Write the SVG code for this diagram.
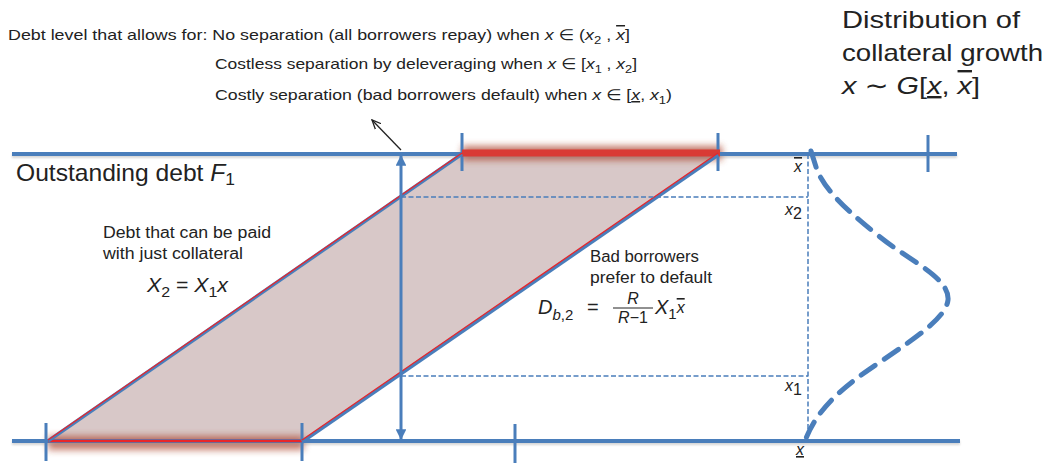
<svg xmlns="http://www.w3.org/2000/svg" width="1051" height="466" viewBox="0 0 1051 466">
<style>
text{font-family:"Liberation Sans","DejaVu Sans",sans-serif;fill:#222;}
.it{font-style:italic;}
.axis{stroke:#4a7ebb;stroke-width:4;fill:none;}
.tick{stroke:#4a7ebb;stroke-width:3;fill:none;}
.dash{stroke:#4a7ebb;stroke-width:1.5;stroke-dasharray:5 2.5;fill:none;}
.edge{stroke:#4a7ebb;stroke-width:3.5;fill:none;}
.redline{stroke:#e8262a;stroke-width:1.3;fill:none;}
.t15{font-size:15px;}
.t16{font-size:16px;}
.t24{font-size:24px;}
</style>
<defs>
<filter id="glow" filterUnits="userSpaceOnUse" x="0" y="0" width="1051" height="466">
<feGaussianBlur stdDeviation="3.5"/>
</filter>
<filter id="shadow" filterUnits="userSpaceOnUse" x="0" y="0" width="1051" height="466">
<feGaussianBlur stdDeviation="1"/>
</filter>
<marker id="ah" viewBox="0 0 10 10" refX="9" refY="5" markerWidth="4" markerHeight="3.6" orient="auto-start-reverse" markerUnits="strokeWidth">
<path d="M0,0 L10,5 L0,10 z" fill="#4a7ebb"/>
</marker>
<marker id="open" viewBox="0 0 10 10" refX="9" refY="5" markerWidth="10" markerHeight="10" orient="auto" markerUnits="userSpaceOnUse">
<path d="M0,1 L9,5 L0,9" fill="none" stroke="#222" stroke-width="1.3"/>
</marker>
</defs>

<g id="region">
<polygon points="48,441 302,441 718,154 462,154" fill="#d8c8c8"/>
</g>

<g id="glows">
<rect x="462" y="146" width="260" height="14" fill="#a83a22" opacity="0.7" filter="url(#glow)"/>
<rect x="48" y="436" width="256" height="14" fill="#a83a22" opacity="0.65" filter="url(#glow)"/>
</g>

<g id="axes">
<line x1="12" y1="156" x2="957" y2="156" stroke="#999" stroke-width="4" opacity="0.4" filter="url(#shadow)"/>
<line x1="12" y1="443" x2="960" y2="443" stroke="#999" stroke-width="4" opacity="0.4" filter="url(#shadow)"/>
<line class="axis" x1="12" y1="154" x2="957" y2="154"/>
<line class="axis" x1="12" y1="441" x2="960" y2="441"/>
<line class="tick" x1="462" y1="133" x2="462" y2="171"/>
<line class="tick" x1="718" y1="133" x2="718" y2="171"/>
<line class="tick" x1="928" y1="135" x2="928" y2="172"/>
<line class="tick" x1="46" y1="423" x2="46" y2="461"/>
<line class="tick" x1="302" y1="423" x2="302" y2="461"/>
<line class="tick" x1="515" y1="424" x2="515" y2="463"/>
</g>

<g id="bars">
<line x1="462" y1="153" x2="720" y2="153" stroke="#d93a35" stroke-width="7"/>
<line x1="48" y1="441" x2="302" y2="441" stroke="#e8262a" stroke-width="2.5"/>
</g>

<g id="connectors">
<line class="edge" x1="48" y1="441" x2="462" y2="154"/>
<line class="redline" x1="48" y1="440" x2="462" y2="153"/>
<line class="edge" x1="302" y1="442" x2="718" y2="155"/>
<line class="redline" x1="302" y1="440" x2="718" y2="153"/>
<line class="dash" x1="401" y1="197" x2="808" y2="197"/>
<line class="dash" x1="401" y1="376" x2="808" y2="376"/>
<line class="dash" x1="808" y1="154" x2="808" y2="441"/>
<line x1="401" y1="156" x2="401" y2="439" stroke="#4a7ebb" stroke-width="3" marker-start="url(#ah)" marker-end="url(#ah)"/>
<line x1="401" y1="150" x2="372" y2="120" stroke="#222" stroke-width="1.3" marker-end="url(#open)"/>
<path d="M811,151 L817,170 C826,192 850,213 880,237 C910,261 950,278 948,300 C946,318 915,338 883,360 C850,382 818,405 805,441" fill="none" stroke="#4a7ebb" stroke-width="5" stroke-dasharray="17 11" stroke-linecap="round"/>
</g>

<g id="header">
<text class="t15" x="8" y="40" textLength="622" lengthAdjust="spacingAndGlyphs">Debt level that allows for: No separation (all borrowers repay) when <tspan class="it">x</tspan> ∈ (<tspan class="it">x</tspan><tspan font-size="11" dy="4">2</tspan><tspan dy="-4"> , </tspan><tspan class="it" text-decoration="overline">x</tspan>]</text>
<text class="t15" x="215" y="69" textLength="422" lengthAdjust="spacingAndGlyphs">Costless separation by deleveraging when <tspan class="it">x</tspan> ∈ [<tspan class="it">x</tspan><tspan font-size="11" dy="4">1</tspan><tspan dy="-4"> , </tspan><tspan class="it">x</tspan><tspan font-size="11" dy="4">2</tspan><tspan dy="-4">]</tspan></text>
<text class="t15" x="215" y="100" textLength="457" lengthAdjust="spacingAndGlyphs">Costly separation (bad borrowers default) when <tspan class="it">x</tspan> ∈ [<tspan class="it" text-decoration="underline">x</tspan>, <tspan class="it">x</tspan><tspan font-size="11" dy="4">1</tspan><tspan dy="-4">)</tspan></text>
</g>

<g id="dist-title">
<text class="t24" x="842" y="28" textLength="178" lengthAdjust="spacingAndGlyphs">Distribution of</text>
<text class="t24" x="842" y="61" textLength="201" lengthAdjust="spacingAndGlyphs">collateral growth</text>
<text class="t24" x="842" y="94" textLength="138" lengthAdjust="spacingAndGlyphs"><tspan class="it">x</tspan> ∼ <tspan class="it">G</tspan>[<tspan class="it" text-decoration="underline">x</tspan>, <tspan class="it" text-decoration="overline">x</tspan>]</text>
</g>

<g id="outstanding">
<text class="t24" x="16" y="181" textLength="219" lengthAdjust="spacingAndGlyphs">Outstanding debt <tspan class="it">F</tspan><tspan font-size="17" dy="4">1</tspan></text>
</g>

<g id="collateral-label">
<text class="t16" x="103" y="238" textLength="168" lengthAdjust="spacingAndGlyphs">Debt that can be paid</text>
<text class="t16" x="103" y="259" textLength="140" lengthAdjust="spacingAndGlyphs">with just collateral</text>
<text font-size="20" x="147" y="292" textLength="81" lengthAdjust="spacingAndGlyphs"><tspan class="it">X</tspan><tspan font-size="15" dy="5">2</tspan><tspan dy="-5"> = </tspan><tspan class="it">X</tspan><tspan font-size="15" dy="5">1</tspan><tspan class="it" dy="-5">x</tspan></text>
</g>

<g id="default-label">
<text class="t16" x="590" y="262" textLength="109" lengthAdjust="spacingAndGlyphs">Bad borrowers</text>
<text class="t16" x="590" y="283" textLength="122" lengthAdjust="spacingAndGlyphs">prefer to default</text>
<text font-size="20" x="538" y="314"><tspan class="it">D</tspan><tspan font-size="15" dy="6"><tspan class="it">b</tspan>,2</tspan></text>
<text font-size="20" x="587" y="314">=</text>
<text font-size="16" class="it" x="633" y="304" text-anchor="middle">R</text>
<line x1="613" y1="308" x2="653" y2="308" stroke="#222" stroke-width="1"/>
<text font-size="16" x="633" y="323" text-anchor="middle"><tspan class="it">R</tspan>−1</text>
<text font-size="20" x="655" y="314"><tspan class="it">X</tspan><tspan font-size="15" dy="5">1</tspan><tspan class="it" font-size="16" dy="-6" text-decoration="overline">x</tspan></text>
</g>

<g id="axis-labels">
<text class="it" font-size="16" x="794" y="172" text-decoration="overline">x</text>
<text font-size="16" x="785" y="215"><tspan class="it">x</tspan><tspan dy="4">2</tspan></text>
<text font-size="16" x="785" y="391"><tspan class="it">x</tspan><tspan dy="4">1</tspan></text>
<text class="it" font-size="16" x="796" y="455" text-decoration="underline">x</text>
</g>
</svg>
